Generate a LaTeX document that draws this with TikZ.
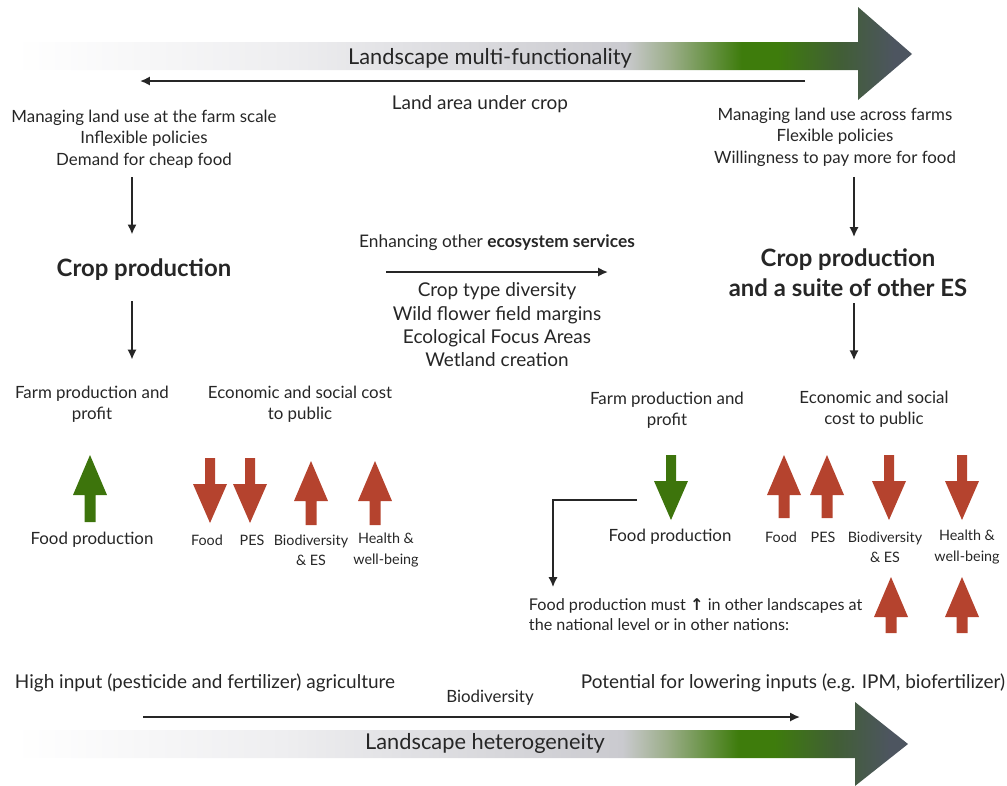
\documentclass[tikz,border=0pt]{standalone}
\usepackage{fontspec}
\setmainfont{Lato}
\newfontfamily\arrowfont{DejaVu Sans}
\usetikzlibrary{arrows.meta}

\definecolor{arrgreen}{HTML}{3D740C}
\definecolor{arrred}{HTML}{B5432E}
\definecolor{txtgray}{HTML}{262626}
\definecolor{sh1}{HTML}{EEEEF0}
\definecolor{sh2}{HTML}{CACACF}
\definecolor{sh3}{HTML}{9CAE8A}
\definecolor{sh4}{HTML}{3E7C0C}
\definecolor{sh5}{HTML}{415E36}
\definecolor{sh6}{HTML}{4D5560}

\pgfdeclarehorizontalshading{landgrad}{100bp}{color(0bp)=(white); color(25bp)=(white);
  color(40bp)=(sh1); color(59bp)=(sh2); color(61.5bp)=(sh3); color(65.5bp)=(sh4);
  color(67.5bp)=(sh4); color(71bp)=(sh5); color(74bp)=(sh6); color(100bp)=(sh6)}

\tikzset{
  uparr/.pic={\fill[pic actions] (0,0) -- (17,40) -- (5.5,40) -- (5.5,#1) -- (-5.5,#1) -- (-5.5,40) -- (-17,40) -- cycle;},
  downarr/.pic={\fill[pic actions] (-5,0) -- (5,0) -- (5,26) -- (17,26) -- (0,65) -- (-17,26) -- (-5,26) -- cycle;},
}

\begin{document}
\begin{tikzpicture}[x=0.025cm, y=-0.025cm, >={Latex[length=7pt,width=6.5pt]},
  txt/.style={align=center, text=txtgray, font=\fontsize{12}{15.3}\selectfont},
  mid/.style={align=center, text=txtgray, font=\fontsize{13.5}{16.6}\selectfont},
  lbl/.style={align=center, text=txtgray, font=\fontsize{10.2}{14.5}\selectfont},
  big/.style={align=center, text=txtgray, font=\fontsize{17}{21.3}\selectfont\bfseries},
  header/.style={text=txtgray, font=\fontsize{15.5}{18}\selectfont},
  low/.style={text=txtgray, font=\fontsize{13.5}{16}\selectfont},
  line/.style={->, line width=1.3pt, txtgray}]
\useasboundingbox (0,0) rectangle (1007,785);

% big gradient arrows
\shade[shading=landgrad] (15,42) -- (858,42) -- (858,7) -- (912,54) -- (858,100) -- (858,70) -- (15,70) -- cycle;
\shade[shading=landgrad] (15,730) -- (855,730) -- (855,702) -- (908,744) -- (855,786) -- (855,758) -- (15,758) -- cycle;

\node[header] (1) at (490,58) {Landscape multi-functionality};
\coordinate (a1) at (805,81);
\coordinate (a2) at (140,81);
\draw[line] (a1) -- (a2);
\node[low] (2) at (480,104) {Land area under crop};

% left column
\node[txt] (3) at (144,139) {Managing land use at the farm scale\\Inflexible policies\\Demand for cheap food};
\node[big] (4) at (144,270) {Crop production};
\node[txt] (5) at (92,404) {Farm production and\\profit};
\node[txt] (6) at (300,404) {Economic and social cost\\to public};
\draw[line, shorten <=3pt, shorten >=14pt] ([shift={(-12,0)}]3.south) -- ([shift={(-12,0)}]4.north);
\draw[line, shorten <=11pt, shorten >=15pt] ([shift={(-12,0)}]4.south) -- ([shift={(-12,0)}]4.south |- 5.north);

\pic[fill=arrgreen] at (90,455) {uparr=67};
\pic[fill=arrred] at (210,458) {downarr};
\pic[fill=arrred] at (250,458) {downarr};
\pic[fill=arrred] at (311,461) {uparr=64};
\pic[fill=arrred] at (375,461) {uparr=64};

\node[txt] (7) at (92,540) {Food production};
\node[lbl] (8) at (207,540) {Food};
\node[lbl] (9) at (252,540) {PES};
\node[lbl] (10) at (311,550) {Biodiversity\\\& ES};
\node[lbl] (11) at (386,550) {Health \&\\well-being};

% middle
\node[txt, font=\fontsize{12.3}{15}\selectfont] (20) at (497,243) {Enhancing other \textbf{ecosystem services}};
\coordinate (e1) at (386,272);
\coordinate (e2) at (608,272);
\draw[line] (e1) -- (e2);
\node[mid] (21) at (497,325) {Crop type diversity\\Wild flower field margins\\Ecological Focus Areas\\Wetland creation};

% right column
\node[txt] (30) at (835,137) {Managing land use across farms\\Flexible policies\\Willingness to pay more for food};
\node[big] (31) at (848,273) {Crop production\\and a suite of other ES};
\node[txt] (32) at (667,410) {Farm production and\\profit};
\node[txt] (33) at (874,409) {Economic and social\\cost to public};
\draw[line, shorten <=4pt, shorten >=5pt] ([shift={(19,0)}]30.south) -- ([shift={(6,0)}]31.north);
\draw[line, shorten <=1pt, shorten >=18pt] ([shift={(6,0)}]31.south) -- ([shift={(6,0)}]31.south |- 33.north);

\pic[fill=arrgreen] at (671,455) {downarr};
\pic[fill=arrred] at (784,455) {uparr=63};
\pic[fill=arrred] at (827,455) {uparr=63};
\pic[fill=arrred] at (889,455) {downarr};
\pic[fill=arrred] at (962,455) {downarr};
\pic[fill=arrred] at (891,577) {uparr=56};
\pic[fill=arrred] at (962,577) {uparr=56};

\node[txt] (34) at (670,537) {Food production};
\node[lbl] (35) at (781,537) {Food};
\node[lbl] (36) at (823,537) {PES};
\node[lbl] (37) at (885,547) {Biodiversity\\\& ES};
\node[lbl] (38) at (967,547) {Health \&\\well-being};
\node[lbl, font=\fontsize{11.5}{14.3}\selectfont, align=left, anchor=west] (39) at (524,615) {Food production must {\arrowfont\bfseries ↑} in other landscapes at\\the national level or in other nations:};
\coordinate (c1) at (637,500);
\draw[line, line width=0.9pt, shorten >=5pt] (c1) -| ([shift={(29,0)}]39.north west);

% bottom
\node[low, anchor=west] (40) at (10,683) {High input (pesticide and fertilizer) agriculture};
\node[low, anchor=east] (41) at (1010,683) {Potential for lowering inputs (e.g. IPM, biofertilizer)};
\node[txt] (42) at (490,698) {Biodiversity};
\coordinate (b1) at (143,717);
\coordinate (b2) at (800,717);
\draw[line] (b1) -- (b2);
\node[header] (43) at (485,743) {Landscape heterogeneity};
\end{tikzpicture}
\end{document}
